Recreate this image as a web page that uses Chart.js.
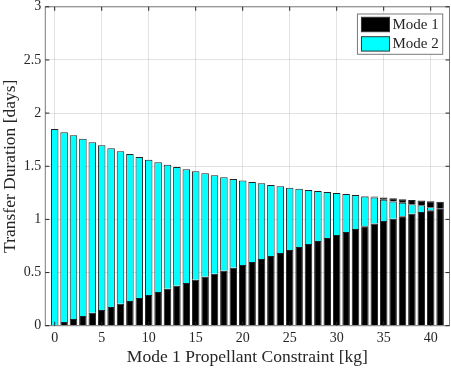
<!DOCTYPE html>
<html><head><meta charset="utf-8">
<script src="https://cdn.jsdelivr.net/npm/chart.js@4"></script>
<style>html,body{margin:0;padding:0;background:#fff}#wrap{width:451px;height:368px}</style>
</head><body><div id="wrap"><canvas id="c" width="451" height="368"></canvas></div>
<script>
const categories = [0,1,2,3,4,5,6,7,8,9,10,11,12,13,14,15,16,17,18,19,20,21,22,23,24,25,26,27,28,29,30,31,32,33,34,35,36,37,38,39,40,41];
const mode1 = [0,0.035,0.063,0.091,0.122,0.148,0.176,0.207,0.232,0.261,0.289,0.317,0.348,0.376,0.402,0.433,0.461,0.489,0.517,0.546,0.571,0.599,0.627,0.656,0.684,0.712,0.740,0.769,0.797,0.825,0.853,0.881,0.910,0.935,0.962,0.984,1.007,1.029,1.052,1.069,1.086,1.105];
const mode2 = [1.850,1.784,1.728,1.667,1.603,1.549,1.493,1.434,1.383,1.326,1.273,1.221,1.167,1.117,1.070,1.020,0.973,0.926,0.880,0.835,0.795,0.753,0.713,0.668,0.627,0.586,0.549,0.508,0.470,0.433,0.395,0.358,0.320,0.280,0.243,0.200,0.162,0.128,0.090,0.063,0.028,0];
const mode1Cap = [0,0,0,0,0,0,0,0,0,0,0,0,0,0,0,0,0,0,0,0,0,0,0,0,0,0,0,0,0,0,0,0,0,0.005,0.010,0.023,0.030,0.033,0.041,0.045,0.057,0.062];
const xTickValues = [0,5,10,15,20,25,30,35,40];
const yTickValues = [0,0.5,1,1.5,2,2.5,3];
const seriesNames = ['Mode 1','Mode 2'];
const xTitle = 'Mode 1 Propellant Constraint [kg]';
const yTitle = 'Transfer Duration [days]';

const FONT = "'Liberation Serif','Times New Roman',serif";
const TXT = '#262626';
const GRID = 'rgba(38,38,38,0.13)';
const AXIS = '#7a7a7a';

const toPts = arr => categories.map((c, i) => ({x: c, y: arr[i]}));
const bw = c => (c.raw && c.raw.y ? 1 : 0);

const framePlugin = {
  id: 'frame',
  afterDatasetsDraw(chart) {
    const {ctx, chartArea: a, scales: {x, y}} = chart;
    ctx.save();
    ctx.strokeStyle = AXIS; ctx.lineWidth = 1;
    ctx.strokeRect(a.left, a.top, a.right - a.left, a.bottom - a.top);
    ctx.strokeStyle = TXT;
    const tl = 4;
    ctx.beginPath();
    x.ticks.forEach(t => {
      const px = x.getPixelForValue(t.value);
      ctx.moveTo(px, a.bottom); ctx.lineTo(px, a.bottom - tl);
      ctx.moveTo(px, a.top); ctx.lineTo(px, a.top + tl);
    });
    y.ticks.forEach(t => {
      const py = y.getPixelForValue(t.value);
      ctx.moveTo(a.left, py); ctx.lineTo(a.left + tl, py);
      ctx.moveTo(a.right, py); ctx.lineTo(a.right - tl, py);
    });
    ctx.stroke();
    ctx.restore();
  },
  afterDraw(chart) {
    const {ctx, chartArea: a} = chart;
    const ds = chart.data.datasets.filter(d => !d.noLegend);
    ctx.save();
    ctx.font = '15px ' + FONT;
    const tw = Math.max(...ds.map(d => ctx.measureText(d.label).width));
    const sw = 28, sh = 14.4, rowH = 19.4;
    const w = 4 + sw + 3 + tw + 4, h = 40.3;
    const bx = a.right - 6.8 - w, by = a.top + 7.2;
    ctx.fillStyle = '#fff';
    ctx.fillRect(bx, by, w, h);
    ctx.strokeStyle = AXIS; ctx.lineWidth = 1;
    ctx.strokeRect(bx, by, w, h);
    ds.forEach((d, i) => {
      const sy = by + 3.3 + i * rowH;
      ctx.fillStyle = d.backgroundColor;
      ctx.fillRect(bx + 4, sy, sw, sh);
      ctx.strokeStyle = '#333';
      ctx.strokeRect(bx + 4, sy, sw, sh);
      ctx.fillStyle = TXT;
      ctx.textBaseline = 'middle';
      ctx.textAlign = 'left';
      ctx.fillText(d.label, bx + 4 + sw + 3, sy + sh / 2 + 0.5);
    });
    ctx.restore();
  }
};

new Chart(document.getElementById('c'), {
  type: 'bar',
  data: {
    datasets: [
      {label: seriesNames[0], data: toPts(mode1), backgroundColor: '#000000', borderColor: '#222222', borderWidth: bw, stack: 's'},
      {label: seriesNames[1], data: toPts(mode2), backgroundColor: '#00ffff', borderColor: '#222222', borderWidth: bw, stack: 's'},
      {label: seriesNames[0], data: toPts(mode1Cap), backgroundColor: '#000000', borderColor: '#222222', borderWidth: bw, stack: 's', noLegend: true}
    ]
  },
  options: {
    responsive: false,
    animation: false,
    devicePixelRatio: 1,
    layout: {padding: {left: 0, right: 1.5, top: 6.8, bottom: 0}},
    datasets: {bar: {barPercentage: 0.8, categoryPercentage: 1}},
    plugins: {legend: {display: false}, tooltip: {enabled: false}},
    scales: {
      x: {
        type: 'linear', min: -1, max: 42, stacked: true, offset: false,
        grid: {color: GRID, drawTicks: false, offset: false},
        border: {display: false},
        ticks: {padding: 4, color: TXT, font: {family: FONT, size: 14}, callback: v => String(v)},
        title: {display: true, text: xTitle, color: TXT, font: {family: FONT, size: 17.5}, padding: {top: 0, bottom: 0.5}},
        afterBuildTicks: s => { s.ticks = xTickValues.map(v => ({value: v})); },
        afterFit: s => { s.height = 42.3; s.paddingLeft = 0; s.paddingRight = 0; }
      },
      y: {
        type: 'linear', min: 0, max: 3, stacked: true,
        grid: {color: GRID, drawTicks: false},
        border: {display: false},
        ticks: {padding: 4, color: TXT, font: {family: FONT, size: 14}, callback: v => String(v)},
        title: {display: true, text: yTitle, color: TXT, font: {family: FONT, size: 17.5}, padding: {top: 0, bottom: 0}},
        afterBuildTicks: s => { s.ticks = yTickValues.map(v => ({value: v})); },
        afterFit: s => { s.width = 45.3; s.paddingTop = 0; s.paddingBottom = 0; }
      }
    }
  },
  plugins: [framePlugin]
});
</script>
</body></html>
